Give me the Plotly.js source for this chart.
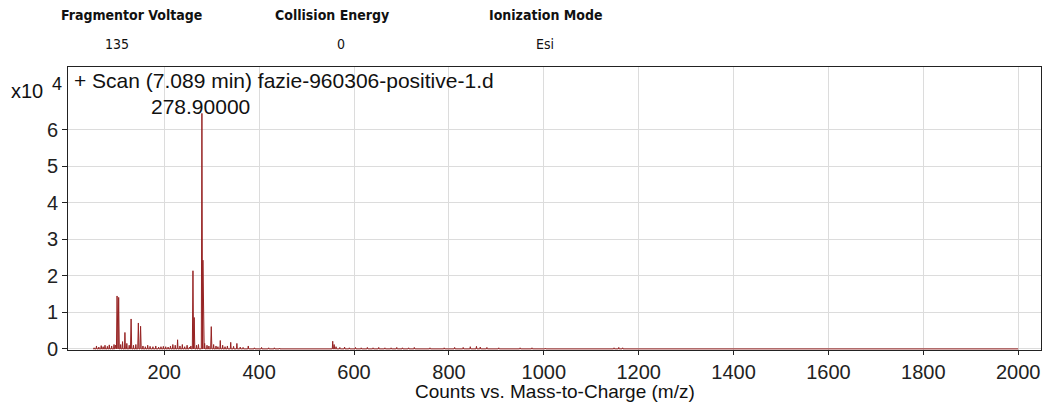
<!DOCTYPE html>
<html>
<head>
<meta charset="utf-8">
<script src="https://cdn.plot.ly/plotly-3.0.1.min.js"></script>
<style>
html,body{margin:0;padding:0;background:#fff;}
#chart{width:1045px;height:402px;}
</style>
</head>
<body>
<div id="chart"></div>
<script>
// Peak list: m/z and intensity (counts x10^4)
var peakMz = [52, 57, 62, 67, 71, 75, 80, 84, 89, 94, 97, 100.4, 103.8, 108, 112, 117, 121, 126, 130, 135, 140, 145.3, 150, 155, 160, 165, 170, 176, 182, 188, 193, 198, 203, 208, 213, 218, 223, 228, 233, 238, 243, 248, 253, 256, 260.4, 263, 268, 272, 279.3, 281.4, 285, 290, 294, 299, 304, 309, 313, 318, 323, 328, 333, 340, 346, 353, 360, 366, 377, 390, 405, 420, 432, 443, 555, 558, 562, 570, 580, 590, 603, 615, 628, 640, 652, 665, 678, 690, 702, 715, 727, 738, 760, 790, 812, 830, 845, 858, 866, 880, 905, 950, 975, 1003, 1148, 1158, 1166, 1218];
var peakInt = [0.03, 0.08, 0.05, 0.09, 0.06, 0.1, 0.07, 0.11, 0.08, 0.12, 0.1, 1.45, 1.41, 0.12, 0.2, 0.45, 0.15, 0.1, 0.82, 0.1, 0.12, 0.71, 0.62, 0.08, 0.06, 0.1, 0.07, 0.06, 0.08, 0.05, 0.06, 0.07, 0.06, 0.05, 0.08, 0.12, 0.1, 0.25, 0.08, 0.12, 0.06, 0.1, 0.05, 0.08, 2.14, 0.86, 0.1, 0.12, 6.45, 2.43, 0.15, 0.1, 0.08, 0.61, 0.12, 0.08, 0.06, 0.23, 0.1, 0.06, 0.08, 0.18, 0.07, 0.15, 0.05, 0.04, 0.08, 0.03, 0.04, 0.03, 0.03, 0.02, 0.21, 0.12, 0.06, 0.04, 0.05, 0.03, 0.04, 0.03, 0.04, 0.03, 0.04, 0.03, 0.03, 0.04, 0.03, 0.03, 0.04, 0.02, 0.03, 0.03, 0.04, 0.04, 0.06, 0.07, 0.05, 0.04, 0.03, 0.03, 0.03, 0.02, 0.03, 0.04, 0.03, 0.02];
var scanStart = 50, scanEnd = 2000;

var xTickVals = [200, 400, 600, 800, 1000, 1200, 1400, 1600, 1800, 2000];
var yTickVals = [0, 1, 2, 3, 4, 5, 6];

var headerLabels = ["Fragmentor Voltage", "Collision Energy", "Ionization Mode"];
var headerValues = ["135", "0", "Esi"];
var scanTitle = "+ Scan (7.089 min) fazie-960306-positive-1.d";
var baseLabel = "278.90000";
var xTitle = "Counts vs. Mass-to-Charge (m/z)";

// build profile-like trace from the peak list
var hw = 0.9;
var xs = [scanStart], ys = [0];
for (var i = 0; i < peakMz.length; i++) {
  var w = peakInt[i] > 0.5 ? 1.3 : hw;
  xs.push(peakMz[i] - w, peakMz[i], peakMz[i] + w);
  ys.push(0, peakInt[i], 0);
}
xs.push(scanEnd); ys.push(0);

var trace = {
  x: xs, y: ys, type: 'scatter', mode: 'lines',
  line: {color: 'rgb(150,35,35)', width: 1},
  fill: 'tozeroy', fillcolor: 'rgba(200,110,110,0.55)',
  hoverinfo: 'skip'
};

var F = 'Liberation Sans, Arial';
var H = 'DejaVu Sans Condensed, DejaVu Sans';
var hdrX = [0.0648, 0.2713, 0.4913];
var valX = [0.0504, 0.2806, 0.4900];
var ann = [];
for (var k = 0; k < headerLabels.length; k++) {
  ann.push({xref:'paper', yref:'paper', x:hdrX[k], y:(350-15)/283, xanchor:'center', yanchor:'middle', showarrow:false,
    text:'<b>'+headerLabels[k]+'</b>', font:{family:H, size:14, color:'#111'}});
  ann.push({xref:'paper', yref:'paper', x:valX[k], y:(350-44)/283, xanchor:'center', yanchor:'middle', showarrow:false,
    text:headerValues[k], font:{family:H, size:14, color:'#111'}});
}
ann.push({xref:'paper', yref:'paper', x:(9-68)/973, y:(350-91)/283, xanchor:'left', yanchor:'middle', showarrow:false,
  text:'x10', font:{family:F, size:20, color:'#111'}});
ann.push({xref:'paper', yref:'paper', x:(50-68)/973, y:(350-84)/283, xanchor:'left', yanchor:'middle', showarrow:false,
  text:'4', font:{family:F, size:18, color:'#111'}});
ann.push({xref:'paper', yref:'paper', x:(72-68)/973, y:(350-80)/283, xanchor:'left', yanchor:'middle', showarrow:false,
  text:scanTitle, font:{family:F, size:21, color:'#111'}});
ann.push({xref:'x', yref:'y', x:278.9, y:6.63, xanchor:'center', yanchor:'middle', xshift:-1, showarrow:false,
  text:baseLabel, font:{family:F, size:21, color:'#111'}});
ann.push({xref:'paper', yref:'paper', x:0.5, y:(350-391)/283, xanchor:'center', yanchor:'middle', showarrow:false,
  text:xTitle, font:{family:F, size:19, color:'#111'}});

var layout = {
  width:1045, height:402,
  margin:{l:68, r:4, t:67, b:52},
  paper_bgcolor:'#fff', plot_bgcolor:'#fff',
  showlegend:false,
  xaxis:{range:[-3, 2048], tickvals:xTickVals, ticktext:xTickVals.map(String),
    showgrid:true, gridcolor:'#dcdcdc', gridwidth:1, zeroline:false,
    showline:true, linecolor:'#222', linewidth:1, mirror:true,
    ticks:'outside', ticklen:4, tickcolor:'#222',
    tickfont:{family:F, size:20, color:'#222'}},
  yaxis:{range:[-0.03, 7.72], tickvals:yTickVals, ticktext:yTickVals.map(String),
    showgrid:true, gridcolor:'#dcdcdc', gridwidth:1, zeroline:false,
    showline:true, linecolor:'#222', linewidth:1, mirror:true,
    ticks:'outside', ticklen:5, tickcolor:'#222',
    tickfont:{family:F, size:20, color:'#222'}},
  annotations: ann
};

Plotly.newPlot('chart', [trace], layout, {displayModeBar:false, staticPlot:true});
</script>
</body>
</html>
